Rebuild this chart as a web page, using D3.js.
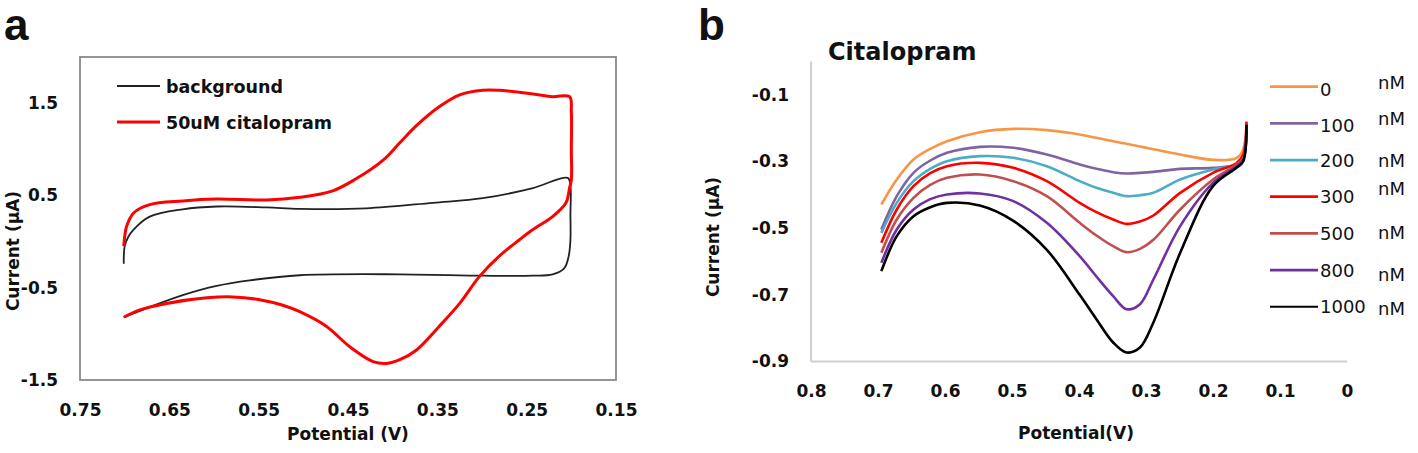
<!DOCTYPE html>
<html><head><meta charset="utf-8">
<script src="https://cdn.jsdelivr.net/npm/d3@7"></script>
<style>
html,body{margin:0;padding:0;background:#fff;}
svg{display:block;}
text{font-family:"DejaVu Sans",sans-serif;fill:#111;}
</style></head>
<body>
<svg id="chart" width="1418" height="453"></svg>
<script>
// ---------- Panel a data ----------
const aXTicks = [0.75, 0.65, 0.55, 0.45, 0.35, 0.25, 0.15];
const aYTicks = [-1.5, -0.5, 0.5, 1.5];
const aSeriesNames = ["background", "50uM citalopram"];
const bgPotential = [0.701,0.700,0.696,0.690,0.672,0.635,0.597,0.541,0.504,0.430,0.355,0.299,0.243,0.204,0.201,0.201,0.201,0.203,0.208,0.221,0.243,0.299,0.392,0.504,0.560,0.597,0.635,0.672,0.701];
const bgCurrent   = [-0.24,-0.05,0.05,0.13,0.27,0.35,0.38,0.37,0.355,0.36,0.42,0.47,0.58,0.69,0.60,0.30,0.02,-0.16,-0.29,-0.355,-0.37,-0.37,-0.355,-0.365,-0.42,-0.48,-0.58,-0.71,-0.82];
const citPotential = [0.701,0.700,0.698,0.690,0.672,0.635,0.597,0.541,0.504,0.467,0.441,0.411,0.392,0.374,0.348,0.325,0.299,0.281,0.243,0.221,0.202,0.200,0.200,0.200,0.202,0.206,0.221,0.243,0.258,0.281,0.303,0.325,0.348,0.374,0.392,0.407,0.422,0.448,0.474,0.504,0.523,0.549,0.579,0.608,0.653,0.683,0.701];
const citCurrent   = [-0.05,0.05,0.16,0.31,0.40,0.44,0.46,0.45,0.48,0.55,0.68,0.88,1.07,1.25,1.46,1.59,1.64,1.64,1.60,1.57,1.57,1.40,1.00,0.67,0.58,0.42,0.27,0.13,0.02,-0.16,-0.38,-0.67,-0.92,-1.18,-1.28,-1.32,-1.30,-1.14,-0.92,-0.76,-0.69,-0.63,-0.60,-0.61,-0.67,-0.74,-0.82];

// ---------- Panel b data ----------
const bXTicks = [0.8, 0.7, 0.6, 0.5, 0.4, 0.3, 0.2, 0.1, 0];
const bYTicks = [-0.1, -0.3, -0.5, -0.7, -0.9];
const bConcentrations = ["0", "100", "200", "300", "500", "800", "1000"];
const bPotential = [0.695,0.672,0.647,0.622,0.597,0.548,0.498,0.448,0.399,0.374,0.349,0.329,0.309,0.289,0.249,0.200,0.165,0.155,0.150];
const c0    = [-0.429,-0.354,-0.294,-0.262,-0.239,-0.212,-0.202,-0.206,-0.219,-0.229,-0.239,-0.247,-0.255,-0.263,-0.279,-0.295,-0.290,-0.264,-0.185];
const c100  = [-0.504,-0.404,-0.334,-0.297,-0.274,-0.256,-0.259,-0.279,-0.309,-0.322,-0.332,-0.336,-0.334,-0.331,-0.322,-0.319,-0.309,-0.290,-0.190];
const c200  = [-0.514,-0.424,-0.359,-0.322,-0.299,-0.284,-0.289,-0.314,-0.359,-0.379,-0.394,-0.404,-0.401,-0.394,-0.354,-0.324,-0.309,-0.290,-0.190];
const c300  = [-0.544,-0.444,-0.374,-0.335,-0.314,-0.304,-0.319,-0.359,-0.424,-0.452,-0.474,-0.487,-0.480,-0.462,-0.394,-0.334,-0.305,-0.280,-0.180];
const c500  = [-0.574,-0.474,-0.409,-0.370,-0.349,-0.339,-0.359,-0.404,-0.484,-0.522,-0.554,-0.572,-0.562,-0.535,-0.444,-0.354,-0.310,-0.290,-0.190];
const c800  = [-0.604,-0.504,-0.444,-0.413,-0.399,-0.396,-0.419,-0.484,-0.584,-0.645,-0.704,-0.743,-0.728,-0.654,-0.494,-0.364,-0.314,-0.295,-0.190];
const c1000 = [-0.629,-0.524,-0.464,-0.437,-0.424,-0.432,-0.478,-0.565,-0.700,-0.773,-0.843,-0.873,-0.858,-0.783,-0.574,-0.374,-0.319,-0.300,-0.190];

// ---------- styles ----------
const bColors = ["#F79646", "#8064A2", "#4BACC6", "#FF0000", "#C0504D", "#7030A0", "#000000"];
const aColors = ["#222222", "#FF0000"];

const hyph = f => d => f(d).replace("\u2212", "-");
const svg = d3.select("#chart");

// ================= PANEL A =================
const ax = d3.scaleLinear().domain([0.75, 0.15]).range([80, 616]);
const ay = d3.scaleLinear().domain([-1.5, 2.0]).range([380, 57]);

svg.append("text").attr("x", 4).attr("y", 40).attr("font-size", 44)
  .attr("font-weight", "bold").style("font-family", "Liberation Sans, Arial, sans-serif").text("a");

svg.append("rect").attr("x", ax(0.75)).attr("y", ay(2.0))
  .attr("width", ax(0.15) - ax(0.75)).attr("height", ay(-1.5) - ay(2.0))
  .attr("fill", "none").attr("stroke", "#8a8a8a").attr("stroke-width", 1.8);

const aXAxis = svg.append("g").attr("transform", `translate(0,${ay(-1.5)})`)
  .call(d3.axisBottom(ax).tickValues(aXTicks).tickSize(0).tickPadding(24).tickFormat(hyph(d3.format(".2f"))));
aXAxis.select(".domain").remove();
aXAxis.selectAll("text").attr("font-size", 17).attr("font-weight", "bold")
  .style("font-family", "DejaVu Sans, sans-serif").attr("fill", "#111");

const aYAxis = svg.append("g").attr("transform", `translate(${ax(0.75)},0)`)
  .call(d3.axisLeft(ay).tickValues(aYTicks).tickSize(0).tickPadding(22).tickFormat(hyph(d3.format(".1f"))));
aYAxis.select(".domain").remove();
aYAxis.selectAll("text").attr("font-size", 17).attr("font-weight", "bold")
  .style("font-family", "DejaVu Sans, sans-serif").attr("fill", "#111");

svg.append("text").attr("x", 348).attr("y", 440).attr("text-anchor", "middle")
  .attr("font-size", 17).attr("font-weight", "bold").text("Potential (V)");
svg.append("text").attr("transform", "translate(19,251) rotate(-90)").attr("text-anchor", "middle")
  .attr("font-size", 17).attr("font-weight", "bold").text("Current (µA)");

const aLine = d3.line().x(d => ax(d[0])).y(d => ay(d[1])).curve(d3.curveCatmullRom.alpha(0.5));
const aData = [
  d3.zip(bgPotential, bgCurrent),
  d3.zip(citPotential, citCurrent)
];
const aWidths = [1.8, 3];
svg.selectAll("path.aline").data(aData).enter().append("path")
  .attr("class", "aline").attr("d", aLine).attr("fill", "none")
  .attr("stroke", (d, i) => aColors[i]).attr("stroke-width", (d, i) => aWidths[i])
  .attr("stroke-linejoin", "round");

const aLeg = svg.append("g");
aSeriesNames.forEach((name, i) => {
  const y = 86 + i * 36;
  aLeg.append("line").attr("x1", 117).attr("x2", 160).attr("y1", y).attr("y2", y)
    .attr("stroke", aColors[i]).attr("stroke-width", aWidths[i]);
  aLeg.append("text").attr("x", 166).attr("y", y + 6.5).attr("font-size", 17.5)
    .attr("font-weight", "bold").text(name);
});

// ================= PANEL B =================
const bx = d3.scaleLinear().domain([0.8, 0]).range([811, 1347]);
const by = d3.scaleLinear().domain([-0.9, 0]).range([361.5, 61.5]);

svg.append("text").attr("x", 698).attr("y", 40).attr("font-size", 44)
  .attr("font-weight", "bold").style("font-family", "Liberation Sans, Arial, sans-serif").text("b");

svg.append("line").attr("x1", bx(0.8)).attr("x2", bx(0.8)).attr("y1", by(0)).attr("y2", by(-0.9))
  .attr("stroke", "#cfcfcf").attr("stroke-width", 2);
svg.append("line").attr("x1", bx(0.8)).attr("x2", bx(0)).attr("y1", by(-0.9)).attr("y2", by(-0.9))
  .attr("stroke", "#cfcfcf").attr("stroke-width", 2);

const bXAxis = svg.append("g").attr("transform", `translate(0,${by(-0.9)})`)
  .call(d3.axisBottom(bx).tickValues(bXTicks).tickSize(0).tickPadding(23).tickFormat(d => d === 0 ? "0" : d3.format(".1f")(d)));
bXAxis.select(".domain").remove();
bXAxis.selectAll("text").attr("font-size", 17).attr("font-weight", "bold")
  .style("font-family", "DejaVu Sans, sans-serif").attr("fill", "#111");

const bYAxis = svg.append("g").attr("transform", `translate(${bx(0.8)},0)`)
  .call(d3.axisLeft(by).tickValues(bYTicks).tickSize(0).tickPadding(22).tickFormat(hyph(d3.format(".1f"))));
bYAxis.select(".domain").remove();
bYAxis.selectAll("text").attr("font-size", 17).attr("font-weight", "bold")
  .style("font-family", "DejaVu Sans, sans-serif").attr("fill", "#111");

svg.append("text").attr("x", 828).attr("y", 60).attr("font-size", 24)
  .attr("font-weight", "bold").text("Citalopram");
svg.append("text").attr("x", 1076).attr("y", 439).attr("text-anchor", "middle")
  .attr("font-size", 17).attr("font-weight", "bold").text("Potential(V)");
svg.append("text").attr("transform", "translate(719,237) rotate(-90)").attr("text-anchor", "middle")
  .attr("font-size", 17).attr("font-weight", "bold").text("Current (µA)");

const bSeries = [c0, c100, c200, c300, c500, c800, c1000];
const bLine = d3.line().x(d => bx(d[0])).y(d => by(d[1])).curve(d3.curveCatmullRom.alpha(0.5));
svg.selectAll("path.bline").data(bSeries).enter().append("path")
  .attr("class", "bline").attr("d", s => bLine(d3.zip(bPotential, s)))
  .attr("fill", "none").attr("stroke", (d, i) => bColors[i]).attr("stroke-width", 2.6)
  .attr("stroke-linejoin", "round");

// legend b (layout offsets mimic the original text placement)
const numDy = [2.5, 2.5, 0.5, 0, 0, 0, 0];
const nmDy = [-4, -4.5, 0.5, -8, -1, 4, 1.5];
const bLeg = svg.append("g");
bConcentrations.forEach((c, i) => {
  const y = 86.7 + i * 36.67;
  bLeg.append("line").attr("x1", 1270).attr("x2", 1318).attr("y1", y).attr("y2", y)
    .attr("stroke", bColors[i]).attr("stroke-width", i === 6 ? 2 : 2.8);
  bLeg.append("text").attr("x", 1320).attr("y", y + numDy[i] + 6.5).attr("font-size", 18).text(c);
  bLeg.append("text").attr("x", 1378).attr("y", y + nmDy[i] + 6.5).attr("font-size", 18).text("nM");
});
</script>
</body></html>
